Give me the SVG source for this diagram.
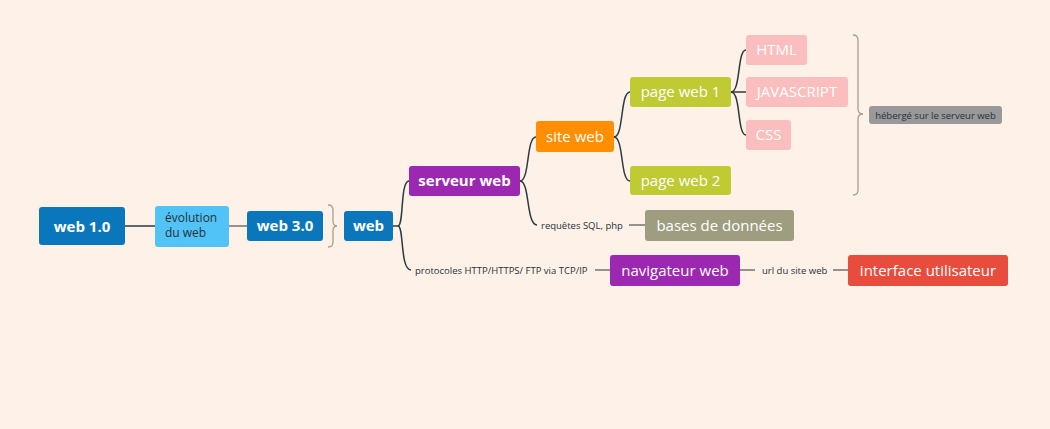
<svg xmlns="http://www.w3.org/2000/svg" width="1050" height="429" viewBox="0 0 1050 429">
<style>
text{font-family:"Open Sans","Noto Sans","Liberation Sans",sans-serif;}
.w{fill:#ffffff;font-size:15px;text-anchor:middle;}
.b{font-weight:bold;}
.s{fill:#263238;font-size:9.5px;}
.c{fill:none;stroke:#2b3a40;stroke-width:1.5;}
.g{fill:none;stroke:#707070;stroke-width:1.5;}
.br{fill:none;stroke:#a8a08a;stroke-width:1.3;}
</style>
<rect width="1050" height="429" fill="#fef1e7"/>
<g id="connectors">
<path class="c" d="M125,226 L155,226"/>
<path class="g" d="M229,226 L247,226"/>
<path class="br" d="M328,205 Q333,205 333,210 L333,221 Q333,226 337,226 Q333,226 333,231 L333,242 Q333,247 328,247"/>
<path class="c" d="M393,226 L398,226"/>
<path class="c" d="M398,226 C404,226 400,181 409,181"/>
<path class="c" d="M398,226 C404,226 400,270 411,270"/>
<path class="c" d="M520,181 C530,181 526,137 536,137"/>
<path class="c" d="M520,181 C530,181 526,225 537,225"/>
<path class="g" d="M629,225 L645,225"/>
<path class="c" d="M614,137 C624,137 620,92 630,92"/>
<path class="c" d="M614,137 C624,137 620,181 630,181"/>
<path class="c" d="M731,92 C741,92 737,50 746,50"/>
<path class="c" d="M731,92 L746,92"/>
<path class="c" d="M731,92 C741,92 737,135 746,135"/>
<path class="br" d="M853,35 Q858,35 858,40 L858,109 Q858,114 863,114 Q858,114 858,119 L858,190 Q858,195 853,195"/>
<path class="g" d="M595,270 L610,270"/>
<path class="g" d="M740,270 L755,270"/>
<path class="g" d="M833,270 L848,270"/>
</g>
<g id="web10"><rect x="39" y="207" width="86" height="38" rx="3" fill="#0a77bd"/><text class="w b" x="82" y="232" font-size="16">web 1.0</text></g>
<g id="evolution"><rect x="155" y="206" width="74" height="41" rx="3" fill="#52c3f7"/><text x="165" y="222" font-size="12" fill="#263238">évolution</text><text x="165" y="237" font-size="12" fill="#263238">du web</text></g>
<g id="web30"><rect x="247" y="211" width="76" height="30" rx="3" fill="#0a77bd"/><text class="w b" x="285" y="231">web 3.0</text></g>
<g id="web"><rect x="344" y="211" width="49" height="30" rx="3" fill="#0a77bd"/><text class="w b" x="368.5" y="231">web</text></g>
<g id="serveurweb"><rect x="409" y="166" width="111" height="30" rx="3" fill="#9c27b0"/><text class="w b" x="464.5" y="186">serveur web</text></g>
<g id="siteweb"><rect x="536" y="121" width="78" height="31" rx="3" fill="#ff8f00"/><text class="w" x="575" y="142">site web</text></g>
<g id="pageweb1"><rect x="630" y="77" width="101" height="30" rx="3" fill="#c0ca33"/><text class="w" x="680.5" y="97">page web 1</text></g>
<g id="pageweb2"><rect x="630" y="166" width="101" height="29" rx="3" fill="#c0ca33"/><text class="w" x="680.5" y="186">page web 2</text></g>
<g id="html"><rect x="746" y="35" width="61" height="30" rx="3" fill="#f9bebd"/><text class="w" x="776.5" y="55">HTML</text></g>
<g id="javascript"><rect x="746" y="77" width="102" height="30" rx="3" fill="#f9bebd"/><text class="w" x="797" y="97">JAVASCRIPT</text></g>
<g id="css"><rect x="746" y="120" width="45" height="30" rx="3" fill="#f9bebd"/><text class="w" x="768.5" y="140">CSS</text></g>
<g id="heberge"><rect x="869" y="106" width="133" height="18" rx="3" fill="#999999"/><text class="s" x="935.5" y="118.5" text-anchor="middle">hébergé sur le serveur web</text></g>
<g id="requetes"><text class="s" x="541" y="228.5">requêtes SQL, php</text></g>
<g id="bases"><rect x="645" y="210" width="149" height="31" rx="3" fill="#9e9d80"/><text class="w" x="719.5" y="231">bases de données</text></g>
<g id="protocoles"><text class="s" x="415" y="273.5">protocoles HTTP/HTTPS/ FTP via TCP/IP</text></g>
<g id="navigateur"><rect x="610" y="255" width="130" height="31" rx="3" fill="#9c27b0"/><text class="w" x="675" y="276" font-size="16">navigateur web</text></g>
<g id="url"><text class="s" x="762" y="273.5">url du site web</text></g>
<g id="interface"><rect x="848" y="255" width="160" height="31" rx="3" fill="#e84c3d"/><text class="w" x="928" y="276" font-size="16">interface utilisateur</text></g>
</svg>
